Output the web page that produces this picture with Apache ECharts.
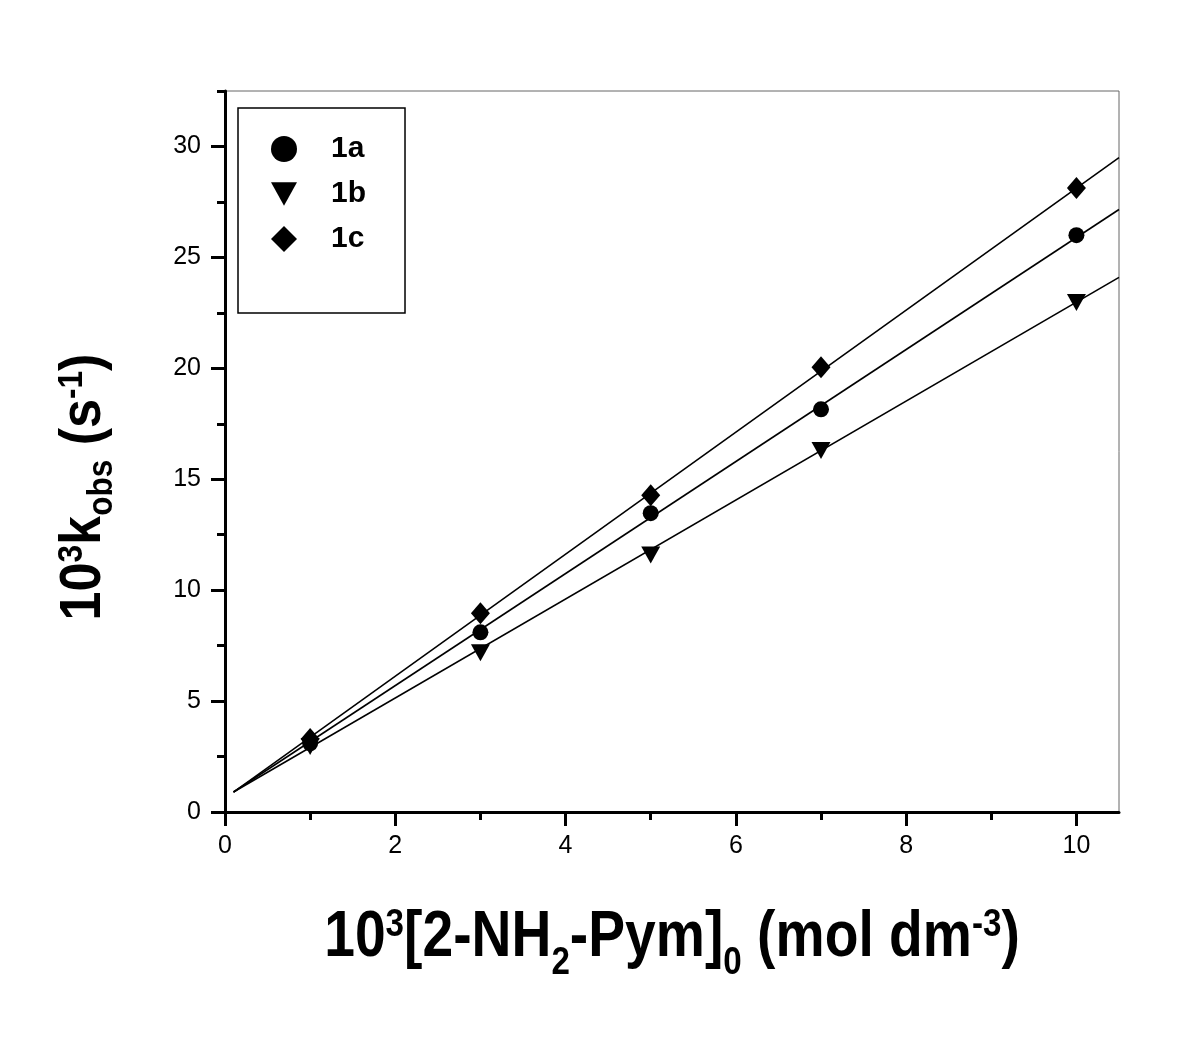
<!DOCTYPE html>
<html>
<head>
<meta charset="utf-8">
<script src="https://cdn.jsdelivr.net/npm/echarts@6/dist/echarts.min.js"></script>
<style>
    html, body {margin: 0; padding: 0; background: #fff;}
    #chart {width: 1200px; height: 1039px;}
</style>
</head>
<body>
<div id="chart"></div>
<script>
// concentration of 2-NH2-Pym (x 10^3)
let conc = [1, 3, 5, 7, 10]
// 10^3 k_obs values
let k1a = [3.1, 8.1, 13.47, 18.15, 26.0]
let k1b = [2.95, 7.18, 11.58, 16.3, 22.97]
let k1c = [3.29, 8.96, 14.28, 20.05, 28.13]
// fitted lines (start / end)
let fitX = [0.1, 10.5]
let fit1a = [0.9, 27.16]
let fit1b = [0.9, 24.1]
let fit1c = [0.9, 29.5]
// ticks
let xMajor = [0, 2, 4, 6, 8, 10]
let xMinor = [1, 3, 5, 7, 9]
let yMajor = [0, 5, 10, 15, 20, 25, 30]
let yMinor = [2.5, 7.5, 12.5, 17.5, 22.5, 27.5, 32.5]

const FONT = 'Liberation Sans, Arial, sans-serif'

function pairs(xs, ys) {
    return xs.map((x, i) => [x, ys[i]])
}

function fitSeries(name, ys) {
    return {
        name: name,
        type: 'line',
        data: pairs(fitX, ys),
        symbol: 'none',
        silent: true,
        lineStyle: {color: '#000', width: 1.6},
        z: 2
    }
}

let axisBase = {
    type: 'value',
    gridIndex: 0,
    splitLine: {show: false},
    axisLine: {show: true, onZero: false, lineStyle: {color: '#000', width: 3}},
    axisTick: {show: true, inside: false, length: 14, lineStyle: {color: '#000', width: 3}},
    axisLabel: {color: '#000', fontFamily: FONT, fontSize: 25}
}

let option = {
    animation: false,
    backgroundColor: '#fff',
    grid: {
        left: 225, right: 81, top: 91, bottom: 227,
        show: true, borderColor: '#666', borderWidth: 1
    },
    xAxis: [
        Object.assign({}, axisBase, {
            min: 0, max: 10.5, position: 'bottom',
            axisTick: Object.assign({}, axisBase.axisTick, {customValues: xMajor}),
            axisLabel: Object.assign({}, axisBase.axisLabel, {customValues: xMajor, margin: 22})
        }),
        Object.assign({}, axisBase, {
            min: 0, max: 10.5, position: 'bottom',
            axisLine: {show: false},
            axisLabel: {show: false},
            axisTick: {show: true, length: 8, customValues: xMinor, lineStyle: {color: '#000', width: 3}}
        })
    ],
    yAxis: [
        Object.assign({}, axisBase, {
            min: 0, max: 32.5, position: 'left',
            axisTick: Object.assign({}, axisBase.axisTick, {customValues: yMajor}),
            axisLabel: Object.assign({}, axisBase.axisLabel, {customValues: yMajor, margin: 24})
        }),
        Object.assign({}, axisBase, {
            min: 0, max: 32.5, position: 'left',
            axisLine: {show: false},
            axisLabel: {show: false},
            axisTick: {show: true, length: 8, customValues: yMinor, lineStyle: {color: '#000', width: 3}}
        })
    ],
    legend: {
        data: [
            {name: '1a'},
            {name: '1b', icon: 'path://M0,0 L20,0 L10,18 Z'},
            {name: '1c'}
        ],
        orient: 'vertical',
        left: 238, top: 108,
        itemWidth: 26, itemHeight: 26, itemGap: 15,
        padding: [26, 39, 59, 33],
        borderColor: '#000', borderWidth: 1.5,
        selectedMode: false,
        itemStyle: {opacity: 1},
        textStyle: {color: '#000', fontFamily: FONT, fontSize: 30, fontWeight: 'bold', padding: [0, 0, 0, 29]}
    },
    graphic: [
        {
            type: 'text',
            x: 672, y: 906,
            scaleX: 0.85,
            silent: true,
            style: {
                text: '{m|10}{sp|3}{m|[2-NH}{sb|2}{m|-Pym]}{sb|0}{m| (mol dm}{sp|-3}{m|)}',
                align: 'center', verticalAlign: 'top',
                textAlign: 'center', textVerticalAlign: 'top',
                fill: '#000',
                rich: {
                    m: {fontFamily: FONT, fontWeight: 'bold', fontSize: 65, lineHeight: 65, verticalAlign: 'top'},
                    sp: {fontFamily: FONT, fontWeight: 'bold', fontSize: 39, lineHeight: 34, verticalAlign: 'top'},
                    sb: {fontFamily: FONT, fontWeight: 'bold', fontSize: 39, lineHeight: 77, verticalAlign: 'bottom'}
                }
            }
        },
        {
            type: 'text',
            x: 55, y: 487,
            rotation: Math.PI / 2,
            scaleX: 0.9,
            silent: true,
            style: {
                text: '{m|10}{sp|3}{m|k}{sb|obs}{m| (s}{sp|-1}{m|)}',
                align: 'center', verticalAlign: 'top',
                textAlign: 'center', textVerticalAlign: 'top',
                fill: '#000',
                rich: {
                    m: {fontFamily: FONT, fontWeight: 'bold', fontSize: 58, lineHeight: 58, verticalAlign: 'top'},
                    sp: {fontFamily: FONT, fontWeight: 'bold', fontSize: 35, lineHeight: 30, verticalAlign: 'top'},
                    sb: {fontFamily: FONT, fontWeight: 'bold', fontSize: 35, lineHeight: 65, verticalAlign: 'bottom'}
                }
            }
        }
    ],
    series: [
        fitSeries('fit1a', fit1a),
        fitSeries('fit1b', fit1b),
        fitSeries('fit1c', fit1c),
        {
            name: '1a', type: 'scatter',
            data: pairs(conc, k1a),
            symbol: 'circle', symbolSize: 16,
            itemStyle: {color: '#000', opacity: 1}, z: 3
        },
        {
            name: '1b', type: 'scatter',
            data: pairs(conc, k1b),
            symbol: 'triangle', symbolSize: [19, 17], symbolRotate: 180,
            itemStyle: {color: '#000', opacity: 1}, z: 3
        },
        {
            name: '1c', type: 'scatter',
            data: pairs(conc, k1c),
            symbol: 'diamond', symbolSize: [19, 22],
            itemStyle: {color: '#000', opacity: 1}, z: 3
        }
    ]
}

let myChart = echarts.init(document.querySelector('#chart'), null, {renderer: 'canvas'})
myChart.setOption(option)
</script>
</body>
</html>
